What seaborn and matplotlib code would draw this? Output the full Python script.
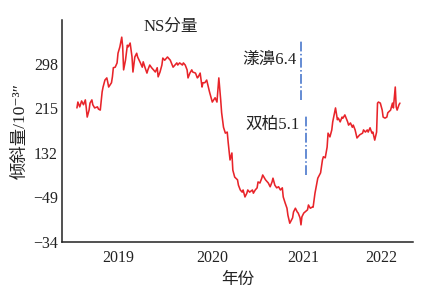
import numpy as np
import pandas as pd
import matplotlib
matplotlib.use("Agg")
import matplotlib.pyplot as plt
import seaborn as sns

# ---- data ----
years = [2019.10, 2019.11, 2019.13, 2019.15, 2019.17, 2019.19, 2019.20, 2019.21, 2019.23, 2019.24,
         2019.26, 2019.27, 2019.29, 2019.32, 2019.33, 2019.35, 2019.37, 2019.38, 2019.40, 2019.42,
         2019.43, 2019.44, 2019.47, 2019.48, 2019.49, 2019.51, 2019.53, 2019.54, 2019.56, 2019.58,
         2019.59, 2019.60, 2019.62, 2019.64, 2019.65, 2019.67, 2019.69, 2019.70, 2019.72, 2019.74,
         2019.75, 2019.78, 2019.80, 2019.81, 2019.83, 2019.85, 2019.86, 2019.88, 2019.90, 2019.92,
         2019.94, 2019.96, 2019.97, 2019.99, 2020.01, 2020.02, 2020.04, 2020.07, 2020.08, 2020.10,
         2020.12, 2020.13, 2020.15, 2020.17, 2020.18, 2020.20, 2020.23, 2020.24, 2020.26, 2020.28,
         2020.29, 2020.31, 2020.33, 2020.34, 2020.37, 2020.39, 2020.40, 2020.42, 2020.44, 2020.45,
         2020.47, 2020.49, 2020.52, 2020.55, 2020.58, 2020.60, 2020.62, 2020.64, 2020.65, 2020.67,
         2020.69, 2020.71, 2020.72, 2020.74, 2020.76, 2020.77, 2020.79, 2020.82, 2020.83, 2020.85,
         2020.87, 2020.88, 2020.90, 2020.92, 2020.93, 2020.95, 2020.98, 2020.99, 2021.01, 2021.03,
         2021.04, 2021.06, 2021.08, 2021.09, 2021.12, 2021.14, 2021.15, 2021.17, 2021.19, 2021.20,
         2021.22, 2021.24, 2021.26, 2021.28, 2021.30, 2021.31, 2021.33, 2021.35, 2021.36, 2021.38,
         2021.41, 2021.42, 2021.44, 2021.46, 2021.47, 2021.49, 2021.50, 2021.51, 2021.53, 2021.57,
         2021.58, 2021.60, 2021.62, 2021.63, 2021.65, 2021.67, 2021.68, 2021.71, 2021.73, 2021.74,
         2021.76, 2021.78, 2021.79, 2021.81, 2021.83, 2021.84, 2021.87, 2021.89, 2021.90, 2021.92,
         2021.94, 2021.95, 2021.97, 2022.00, 2022.01, 2022.03, 2022.05, 2022.06, 2022.08, 2022.10,
         2022.11, 2022.13, 2022.16, 2022.17, 2022.19, 2022.21, 2022.22, 2022.24, 2022.26, 2022.27,
         2022.29, 2022.31, 2022.32, 2022.33, 2022.35, 2022.37, 2022.38, 2022.40, 2022.42, 2022.43,
         2022.46, 2022.48, 2022.49, 2022.51, 2022.52, 2022.53, 2022.55, 2022.56]
tilt = [216, 227, 218, 229, 222, 231, 216, 199, 212, 225,
        231, 222, 216, 218, 214, 212, 246, 255, 268, 272,
        264, 255, 263, 274, 291, 292, 300, 318, 330, 348,
        330, 287, 305, 333, 330, 337, 311, 283, 311, 318,
        311, 300, 292, 302, 291, 281, 287, 296, 291, 287,
        283, 291, 274, 283, 296, 309, 305, 311, 309, 305,
        296, 292, 296, 300, 296, 300, 296, 300, 296, 287,
        272, 281, 287, 283, 281, 272, 274, 281, 255, 263,
        263, 268, 246, 227, 235, 227, 272, 231, 207, 180,
        169, 171, 152, 119, 132, 100, 87, 82, 72, 63,
        59, 63, 50, 57, 63, 59, 63, 57, 63, 67,
        78, 76, 85, 91, 82, 78, 76, 69, 78, 85,
        72, 67, 69, 63, 67, 50, 39, 29, 16, 1,
        11, 22, 29, 22, 20, 11, -2, 13, 20, 26,
        35, 29, 31, 31, 57, 76, 85, 95, 119, 125,
        123, 143, 169, 162, 175, 190, 216, 194, 197, 190,
        199, 197, 203, 190, 184, 188, 180, 184, 175, 160,
        162, 166, 169, 175, 171, 175, 171, 179, 169, 171,
        156, 171, 225, 227, 225, 212, 199, 197, 199, 207,
        212, 225, 216, 255, 218, 212, 222, 225]

ytick_values = [298, 215, 132, 49, -34]
ytick_labels = ["298", "215", "132", "\u221249", "\u221234"]
year_labels = ["2019", "2020", "2021", "2022"]
year_label_pos = [2019.54, 2020.55, 2021.52, 2022.36]
year_bounds = [2020.02, 2021.04, 2022.00, 2022.70]

quakes = ["漾濞6.4", "双柏5.1"]
quake_x = [2021.50, 2021.555]
quake_ymin = [231, 91]
quake_ymax = [343, 203]
quake_text_x = [2021.45, 2021.49]
quake_text_y = [305, 184]

df = pd.DataFrame({"year": years, "tilt": tilt})

sns.set_theme(style="white")
plt.rcParams["font.family"] = ["Liberation Serif", "Noto Sans CJK SC", "DejaVu Sans"]
plt.rcParams["axes.unicode_minus"] = True

fig = plt.figure(figsize=(4.22, 3.0), dpi=100)
ax = fig.add_axes([62 / 422, 58 / 300, (413 - 62) / 422, (242 - 20) / 300])

sns.lineplot(data=df, x="year", y="tilt", ax=ax, color="#e8242a", linewidth=1.15)

for name, qx, y0, y1, tx, ty in zip(quakes, quake_x, quake_ymin, quake_ymax, quake_text_x, quake_text_y):
    ax.plot([qx, qx], [y0, y1], color="#3a6cc8", linestyle="-.", linewidth=1.1)
    ax.text(tx, ty, name, ha="right", va="center", fontsize=12, color="#222222")

ax.text(2020.11, 367, "NS分量", ha="center", va="center", fontsize=12, color="#222222")

ax.set_xlim(2018.94, 2022.70)
ax.set_ylim(-34, 380)

ax.set_yticks(ytick_values)
ax.set_yticklabels(ytick_labels)
ax.set_xticks(year_bounds)
ax.set_xticklabels([""] * len(year_bounds))
ax.set_xticks(year_label_pos, minor=True)
ax.set_xticklabels(year_labels, minor=True)

ax.tick_params(axis="both", which="major", direction="in", length=4, width=1.0,
               colors="#222222", labelsize=11.5)
ax.tick_params(axis="x", which="minor", length=0, labelsize=11.5, colors="#222222", pad=6)
ax.tick_params(axis="y", pad=3)

for s in ["top", "right"]:
    ax.spines[s].set_visible(False)
for s in ["left", "bottom"]:
    ax.spines[s].set_color("#222222")
    ax.spines[s].set_linewidth(1.1)

ax.set_xlabel("年份", fontsize=12, color="#222222", labelpad=4)
ax.set_ylabel("倾斜量/10\u207b\u00b3\u2033", fontsize=12.5, color="#222222", labelpad=3)

fig.savefig("out.png", dpi=100, facecolor="white")
